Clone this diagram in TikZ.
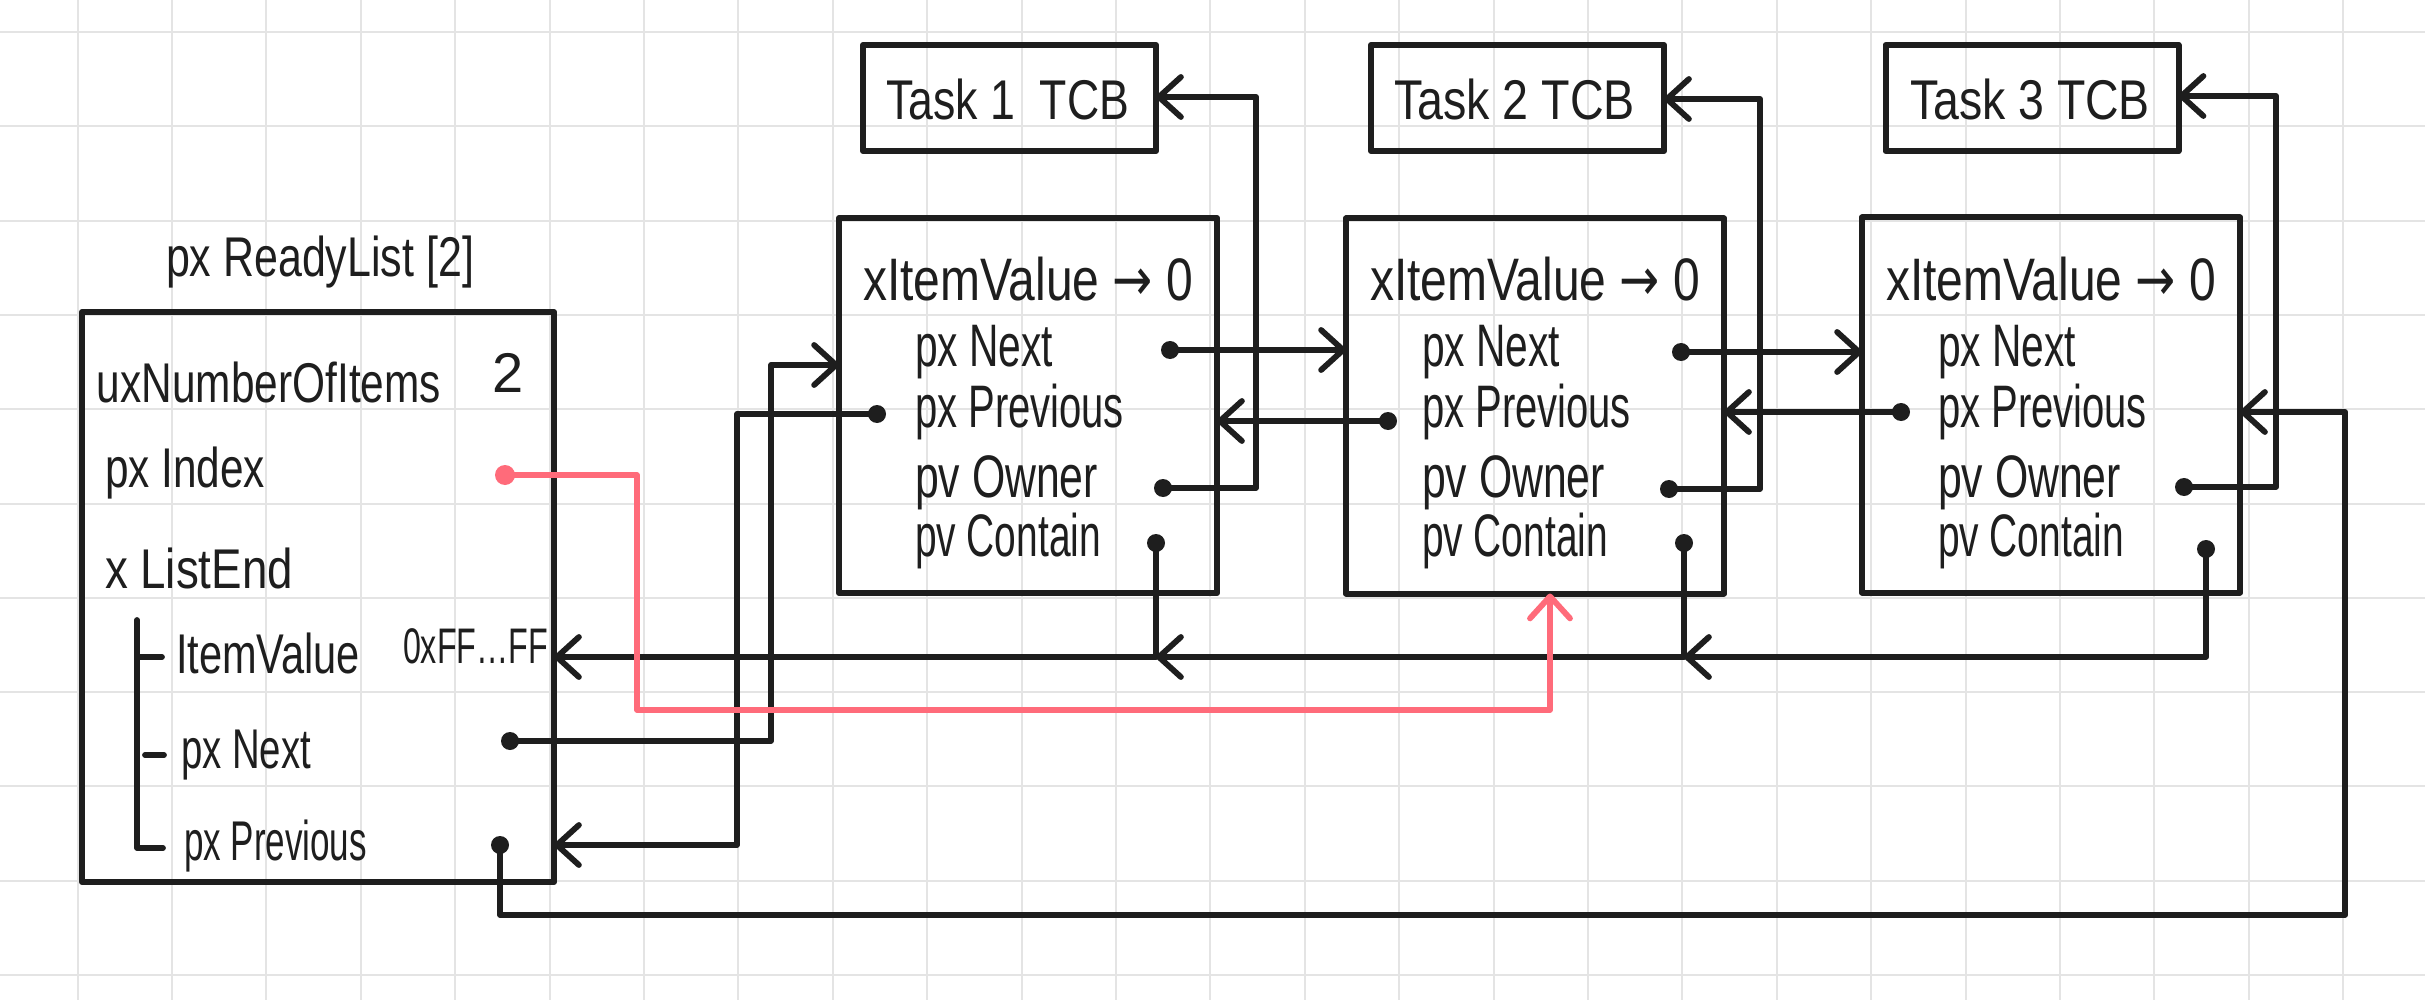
\documentclass[tikz,border=0pt]{standalone}
\usepackage{fontspec}
\setmainfont{Liberation Sans}
\newfontfamily\symf{DejaVu Sans}
\usepackage{graphicx}
\usetikzlibrary{arrows.meta,calc}
\newcommand\hw[2]{\resizebox{#1}{\height}{#2}}
\definecolor{gridc}{RGB}{228,228,228}
\definecolor{inkc}{RGB}{30,30,30}
\definecolor{redc}{RGB}{255,107,122}
\tikzset{
 box/.style={draw=inkc, line width=3pt, inner sep=0pt, outer sep=0pt, line join=round},
 lbl/.style={inner sep=0pt, outer sep=0pt, anchor=base west, text=inkc},
 itemf/.style={lbl, font=\fontsize{30}{34}\selectfont},
 listf/.style={lbl, font=\fontsize{28}{32}\selectfont},
 tcbf/.style={lbl, font=\fontsize{28}{32}\selectfont},
 dotn/.style={circle, fill=inkc, inner sep=0pt, minimum size=9pt},
 wire/.style={draw=inkc, line width=2.9pt, line cap=round, line join=round},
 arr/.style={wire, -{Straight Barb[length=11pt,width=20pt,round]}},
 gridline/.style={draw=gridc, line width=1pt},
}
\begin{document}
\begin{tikzpicture}[x=0.5pt,y=-0.5pt]
\useasboundingbox[fill=white] (0,0) rectangle (2425,1000);
% grid
\foreach \k in {0,...,24} \draw[gridline] ({77.6+94.4*\k},0) -- ({77.6+94.4*\k},1000);
\foreach \k in {0,...,10} \draw[gridline] (0,{32+94.3*\k}) -- (2425,{32+94.3*\k});

% list box
\node[listf] (title) at (166,277) {\hw{154pt}{px ReadyList [2]}};
\node[box, minimum width=236pt, minimum height=285pt] (list) at (318,597) {};
\node[listf] (lnum) at (97,402) {\hw{172pt}{uxNumberOfItems}};
\node[listf] (lnumv) at (492,392) {2};
\node[listf] (lindex) at (105,487) {\hw{80pt}{px Index}};
\node[listf] (lend) at (105,588) {\hw{94pt}{x ListEnd}};
\node[listf] (livalue) at (176,673) {\hw{92pt}{ItemValue}};
\node[lbl, font=\fontsize{25}{28}\selectfont] (livv) at (403,663) {\hw{72.5pt}{0xFF…FF}};
\node[listf] (lnextt) at (181,768) {\hw{65pt}{px Next}};
\node[listf] (lprevt) at (184,860) {\hw{91.5pt}{px Previous}};
\draw[wire] (137,620) -- (137,848) -- (163,848);
\draw[wire] (137,657) -- (162,657);
\draw[wire] (145,755) -- (164,755);

% items
\node[box, minimum width=189pt, minimum height=187.5pt] (item1) at (1028,405.5) {};
\node[box, minimum width=189pt, minimum height=187.5pt] (item2) at (1535,406) {};
\node[box, minimum width=189pt, minimum height=187.5pt] (item3) at (2051,405) {};
\foreach \n/\L in {1/839,2/1346,3/1862}{
  \node[itemf] (iv\n) at ({\L+24},300) {\hw{165pt}{xItemValue {\symf →} 0}};
  \node[itemf] (inx\n) at ({\L+76},366) {\hw{69pt}{px Next}};
  \node[itemf] (ipv\n) at ({\L+76},427) {\hw{104.5pt}{px Previous}};
  \node[itemf] (iow\n) at ({\L+76},497) {\hw{91.5pt}{pv Owner}};
  \node[itemf] (ico\n) at ({\L+76},556) {\hw{93pt}{pv Contain}};
}

% TCBs
\node[box, minimum width=146.5pt, minimum height=53pt] (tcb1) at (1009.5,98) {};
\node[box, minimum width=146.5pt, minimum height=53pt] (tcb2) at (1517.5,98) {};
\node[box, minimum width=146.5pt, minimum height=53pt] (tcb3) at (2032,98) {};
\node[tcbf] (tt1) at (886,120) {\hw{121.5pt}{Task 1\ \ TCB}};
\node[tcbf] (tt2) at (1394,120) {\hw{120.5pt}{Task 2 TCB}};
\node[tcbf] (tt3) at (1910,120) {\hw{120pt}{Task 3 TCB}};

% dots
\node[dotn] (i1n) at (1170,350) {};
\node[dotn] (i1p) at (877,414) {};
\node[dotn] (i1o) at (1163,488) {};
\node[dotn] (i1c) at (1156,543) {};
\node[dotn] (i2n) at (1681,352) {};
\node[dotn] (i2p) at (1388,421) {};
\node[dotn] (i2o) at (1669,489) {};
\node[dotn] (i2c) at (1684,543) {};
\node[dotn] (i3p) at (1901,412) {};
\node[dotn] (i3o) at (2184,487) {};
\node[dotn] (i3c) at (2206,549) {};
\node[dotn, fill=redc, minimum size=10pt] (lidx) at (505,475) {};
\node[dotn] (lnext) at (510,741) {};
\node[dotn] (lprev) at (500,845) {};

% bend coordinates
\coordinate (b1) at (1256,97);
\coordinate (b2) at (1760,99);
\coordinate (b3) at (2276,96);
\coordinate (bus) at (0,657);
\coordinate (r1) at (771,365);
\coordinate (r2) at (737,845);
\coordinate (q1) at (637,710);
\coordinate (q2) at (1550,710);
\coordinate (q3) at (2345,915);

% next / previous links
\draw[arr] (i1n.center) -- (i1n.center -| item2.west);
\draw[arr] (i2n.center) -- (i2n.center -| item3.west);
\draw[arr] (i2p.center) -- (i2p.center -| item1.east);
\draw[arr] (i3p.center) -- (i3p.center -| item2.east);

% owner links
\draw[arr] (i1o.center) -| (b1) -- (b1 -| tcb1.east);
\draw[arr] (i2o.center) -| (b2) -- (b2 -| tcb2.east);
\draw[arr] (i3o.center) -| (b3) -- (b3 -| tcb3.east);

% container links
\draw[arr] (i3c.center) |- (i2c.center |- bus);
\draw[arr] (i2c.center) |- (i1c.center |- bus);
\draw[arr] (i1c.center) |- (bus -| list.east);

% list end links
\draw[arr] (lnext.center) -| (r1) -- (r1 -| item1.west);
\draw[arr] (i1p.center) -| (r2) -- (r2 -| list.east);
\draw[arr] (lprev.center) |- (q3) |- (i3p.center -| item3.east);

% index (red)
\draw[arr, draw=redc] (lidx.center) -| (q1) -- (q2) -- (q2 |- item2.south);
\end{tikzpicture}
\end{document}
